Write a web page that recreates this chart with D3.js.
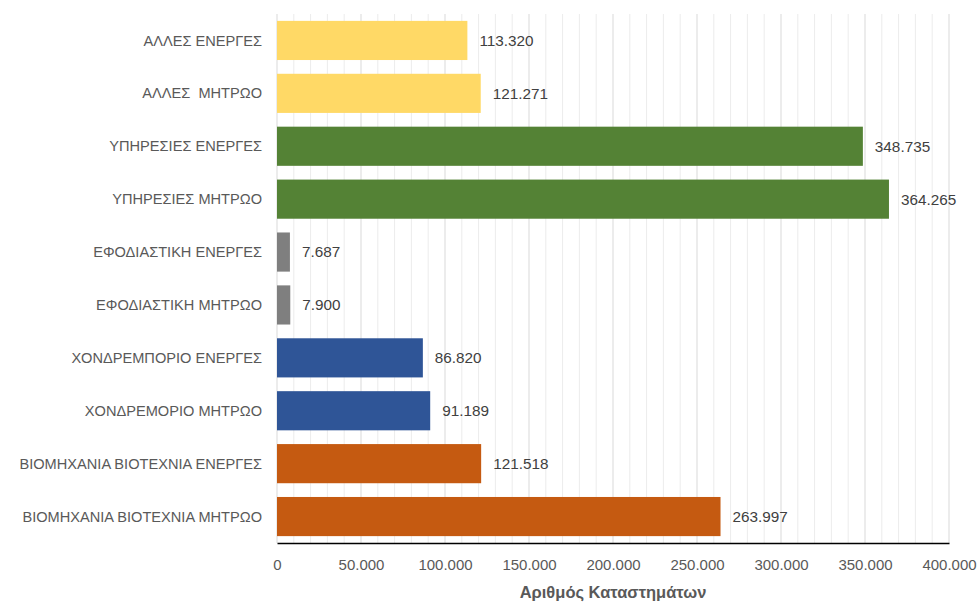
<!DOCTYPE html>
<html><head><meta charset="utf-8">
<script src="https://cdn.jsdelivr.net/npm/d3@7"></script>
<style>body{margin:0;background:#fff}svg{display:block}</style>
</head><body><svg id="c" width="979" height="602"></svg>
<script>
const categories = ["ΑΛΛΕΣ ΕΝΕΡΓΕΣ","ΑΛΛΕΣ  ΜΗΤΡΩΟ","ΥΠΗΡΕΣΙΕΣ ΕΝΕΡΓΕΣ","ΥΠΗΡΕΣΙΕΣ ΜΗΤΡΩΟ","ΕΦΟΔΙΑΣΤΙΚΗ ΕΝΕΡΓΕΣ","ΕΦΟΔΙΑΣΤΙΚΗ ΜΗΤΡΩΟ","ΧΟΝΔΡΕΜΠΟΡΙΟ ΕΝΕΡΓΕΣ","ΧΟΝΔΡΕΜΟΡΙΟ ΜΗΤΡΩΟ","ΒΙΟΜΗΧΑΝΙΑ ΒΙΟΤΕΧΝΙΑ ΕΝΕΡΓΕΣ","ΒΙΟΜΗΧΑΝΙΑ ΒΙΟΤΕΧΝΙΑ ΜΗΤΡΩΟ"];
const values = [113320,121271,348735,364265,7687,7900,86820,91189,121518,263997];
const groups = ["other","other","services","services","logistics","logistics","wholesale","wholesale","industry","industry"];
const groupColors = {other:"#FFD966",services:"#548235",logistics:"#7F7F7F",wholesale:"#2F5597",industry:"#C55A11"};
const xTicks = [0,50000,100000,150000,200000,250000,300000,350000,400000];
const axisTitle = "Αριθμός Καταστημάτων";

const loc = d3.formatLocale({decimal:",",thousands:".",grouping:[3],currency:["",""]});
const fmt = loc.format(",d");
const FONT = "Liberation Sans, Arial, sans-serif";

const svg = d3.select("#c");
const m = {left:277, right:30, top:14, bottom:59};
const W = 979, H = 602;
const x = d3.scaleLinear().domain([0,400000]).range([m.left, W-m.right]);
const y = d3.scaleBand().domain(categories).range([m.top, H-m.bottom]).paddingInner(0.26).paddingOuter(0.13);

// minor gridlines
svg.append("g").selectAll("line").data(d3.range(10000,400001,10000).filter(v=>v%50000!==0))
  .join("line").attr("x1",d=>x(d)).attr("x2",d=>x(d)).attr("y1",m.top).attr("y2",H-m.bottom)
  .attr("stroke","#ececec").attr("stroke-width",1);
// major gridlines
svg.append("g").selectAll("line").data(xTicks.slice(1))
  .join("line").attr("x1",d=>x(d)).attr("x2",d=>x(d)).attr("y1",m.top).attr("y2",H-m.bottom)
  .attr("stroke","#d9d9d9").attr("stroke-width",1);
// left axis line
svg.append("line").attr("x1",x(0)).attr("x2",x(0)).attr("y1",m.top).attr("y2",H-m.bottom).attr("stroke","#d9d9d9");

// bars
svg.append("g").selectAll("rect").data(categories).join("rect")
  .attr("x",x(0)).attr("y",d=>y(d)).attr("width",(d,i)=>x(values[i])-x(0)).attr("height",y.bandwidth())
  .attr("fill",(d,i)=>groupColors[groups[i]]);

// value labels
svg.append("g").selectAll("text").data(categories).join("text")
  .attr("x",(d,i)=>x(values[i])+12).attr("y",d=>y(d)+y.bandwidth()/2).attr("dy","0.35em")
  .attr("font-family",FONT).attr("font-size",15.3).attr("fill","#404040")
  .text((d,i)=>fmt(values[i]));

// category labels
svg.append("g").selectAll("text").data(categories).join("text")
  .attr("x",262).attr("y",d=>y(d)+y.bandwidth()/2).attr("dy","0.35em").attr("text-anchor","end")
  .attr("font-family",FONT).attr("font-size",14.6).attr("fill","#595959")
  .style("white-space","pre")
  .text(d=>d);

// x axis
const xa = svg.append("g").attr("transform",`translate(0,${H-m.bottom})`)
  .call(d3.axisBottom(x).tickValues(xTicks).tickFormat(fmt).tickSize(0).tickPadding(16));
xa.select(".domain").attr("stroke","#000").attr("stroke-width",1.5);
xa.selectAll("text").attr("font-family",FONT).attr("font-size",15).attr("fill","#595959");

svg.append("text").attr("x",613).attr("y",598).attr("text-anchor","middle")
  .attr("font-family",FONT).attr("font-size",16.5).attr("font-weight","bold").attr("fill","#595959")
  .text(axisTitle);
</script></body></html>
